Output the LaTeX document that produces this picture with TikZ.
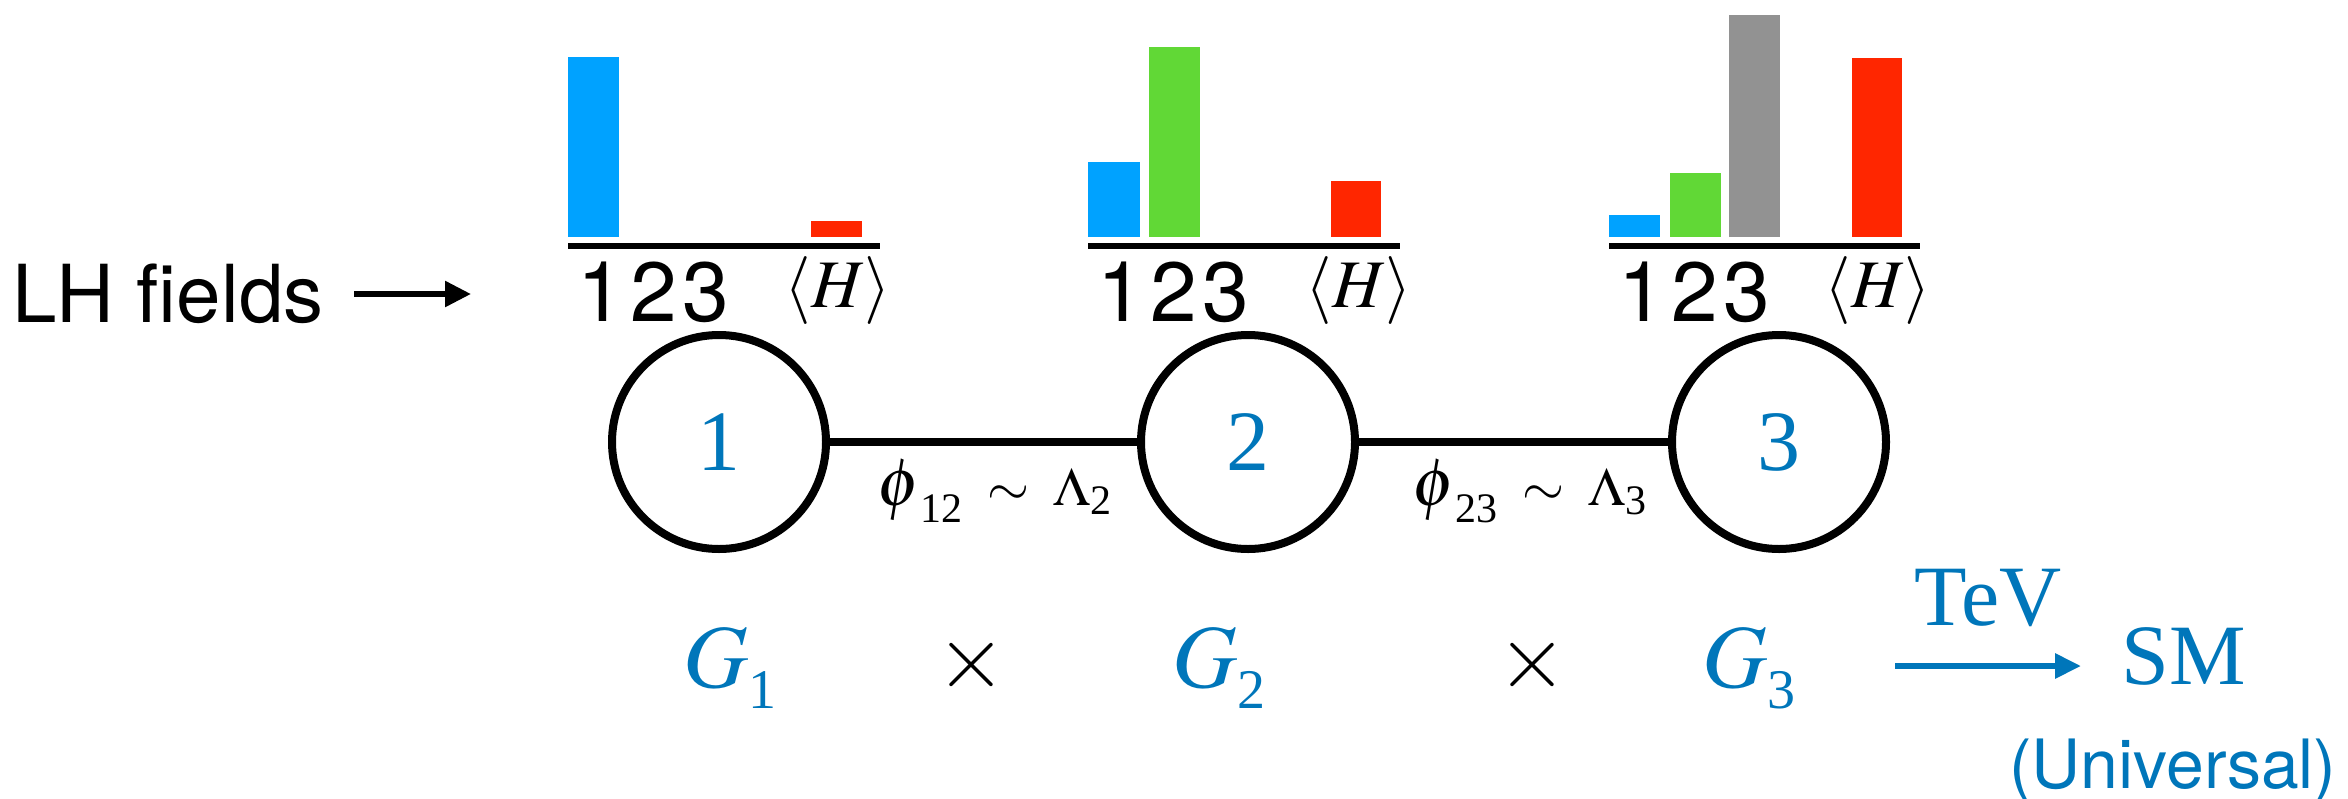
\documentclass[tikz,border=0pt]{standalone}
\usepackage{mathptmx}
\usepackage{fontspec}
\setmainfont{Liberation Serif}
\setsansfont{TeX Gyre Heros}
\usetikzlibrary{arrows.meta}
\definecolor{barblue}{HTML}{00A2FF}
\definecolor{bargreen}{HTML}{61D836}
\definecolor{bargray}{HTML}{929292}
\definecolor{barred}{HTML}{FF2600}
\definecolor{txtblue}{HTML}{0076BA}
\newcommand{\idx}{1\kern3pt 2\kern3pt 3}
\newcommand{\lsub}[1]{\mbox{\fontsize{21}{21}\selectfont #1}}
\newcommand{\bigphi}{\mbox{\fontsize{34}{34}\selectfont$\phi$}}
\newcommand{\gsub}[1]{\raisebox{-4pt}{\fontsize{28}{28}\selectfont #1}}
\begin{document}
\begin{tikzpicture}[x=0.5pt,y=-0.5pt,
  axisline/.style={line width=2.7pt},
  idxlabel/.style={anchor=base west, inner sep=0, font=\sffamily\fontsize{42}{42}\selectfont},
  vevlabel/.style={inner sep=0, font=\fontsize{34}{34}\selectfont},
  gnode/.style={circle, draw, line width=4pt, minimum size=107pt, inner sep=0, text=txtblue, font=\fontsize{43}{43}\selectfont},
  link/.style={line width=4pt},
  linklabel/.style={inner sep=0, font=\fontsize{27}{27}\selectfont},
  grouplabel/.style={anchor=base west, inner sep=0, text=txtblue, font=\fontsize{45}{45}\selectfont},
  timeslabel/.style={inner sep=0, font=\fontsize{45}{45}\selectfont},
  bigtext/.style={inner sep=0, text=txtblue, font=\fontsize{43}{43}\selectfont}
]
\useasboundingbox (0,0) rectangle (2348,798);

% LH fields
\node[anchor=base west, inner sep=0, font=\sffamily\fontsize{40}{40}\selectfont] (lh) at (12,322) {LH fields};
\coordinate (lha) at (354,294);
\coordinate (lhb) at (471,294);
\draw[line width=2.8pt, -{Triangle[length=13pt,width=12.5pt]}] (lha) -- (lhb);

% chart 1
\fill[barblue] (568,57) rectangle (619,237);
\fill[barred] (811,221) rectangle (862,237);
\draw[axisline] (568,246) -- (880,246);
\node[idxlabel] (n1) at (577,321) {\idx};
\node[vevlabel] (h1) at (838,291) {$\langle H\rangle$};

% chart 2
\fill[barblue] (1088,162) rectangle (1140,237);
\fill[bargreen] (1149,47) rectangle (1200,237);
\fill[barred] (1331,181) rectangle (1381,237);
\draw[axisline] (1088,246) -- (1400,246);
\node[idxlabel] (n2) at (1097,321) {\idx};
\node[vevlabel] (h2) at (1359,291) {$\langle H\rangle$};

% chart 3
\fill[barblue] (1609,215) rectangle (1660,237);
\fill[bargreen] (1670,173) rectangle (1721,237);
\fill[bargray] (1729,15) rectangle (1780,237);
\fill[barred] (1852,58) rectangle (1902,237);
\draw[axisline] (1609,246) -- (1920,246);
\node[idxlabel] (n3) at (1618,321) {\idx};
\node[vevlabel] (h3) at (1878,291) {$\langle H\rangle$};

% moose chain
\node[gnode] (c1) at (719,442) {1};
\node[gnode] (c2) at (1248,442) {2};
\node[gnode] (c3) at (1779,442) {3};
\draw[link] (c1) -- (c2);
\draw[link] (c2) -- (c3);
\node[linklabel, anchor=base] (l12) at (995,505) {$\bigphi_{\lsub{12}}\;\sim\;\Lambda_{\lsub{2}}$};
\node[linklabel, anchor=base] (l23) at (1530,505) {$\bigphi_{\lsub{23}}\;\sim\;\Lambda_{\lsub{3}}$};

% groups
\node[grouplabel] (g1) at (683,687) {$G_{\gsub{1}}$};
\node[timeslabel] (x1) at (971,665) {$\times$};
\node[grouplabel] (g2) at (1172,687) {$G_{\gsub{2}}$};
\node[timeslabel] (x2) at (1532,665) {$\times$};
\node[grouplabel] (g3) at (1702,687) {$G_{\gsub{3}}$};

\coordinate (ta) at (1895,666);
\coordinate (tb) at (2081,666);
\draw[txtblue, line width=3pt, -{Triangle[length=13pt,width=12pt]}] (ta) -- (tb);
\node[bigtext, anchor=base] (tev) at (1988,625) {TeV};
\node[bigtext, anchor=base west] (sm) at (2121,684) {SM};
\node[anchor=base east, inner sep=0, text=txtblue, font=\sffamily\fontsize{34}{34}\selectfont] (univ) at (2337,788) {(Universal)};
\end{tikzpicture}
\end{document}
